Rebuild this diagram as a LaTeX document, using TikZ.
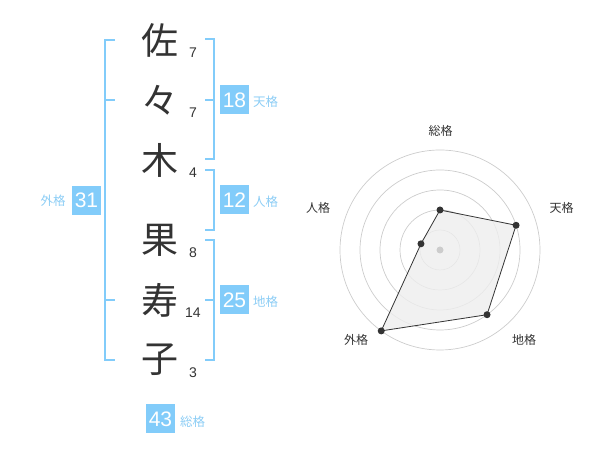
\documentclass[tikz,border=0pt]{standalone}
\usepackage{fontspec}
\setmainfont{Liberation Sans}
\newfontfamily\jp{Noto Sans CJK JP}
\definecolor{sky}{RGB}{130,204,250}
\definecolor{skytxt}{RGB}{140,205,245}
\definecolor{ink}{RGB}{51,51,51}
\definecolor{ring}{RGB}{204,204,204}
\definecolor{area}{RGB}{238,238,238}
\begin{document}
\begin{tikzpicture}[x=1pt,y=1pt,
  kanji/.style={font=\jp\fontsize{37}{37}\selectfont,text=ink,inner sep=0pt},
  stroke/.style={font=\fontsize{14}{14}\selectfont,text=ink,inner sep=0pt},
  brk/.style={draw=sky,line width=2pt},
  numbox/.style={fill=sky,text=white,minimum width=29pt,minimum height=29pt,inner sep=0pt,font=\fontsize{21}{21}\selectfont},
  kaku/.style={text=skytxt,font=\jp\fontsize{12.5}{12.5}\selectfont,inner sep=0pt},
  axlab/.style={text=ink,font=\jp\fontsize{12}{12}\selectfont,inner sep=0pt},
  dot/.style={circle,fill=ink,inner sep=0pt,minimum size=7pt}]
\useasboundingbox (0,0) rectangle (600,470);
% characters
\node[kanji] (k1) at (160,430) {佐};
\node[kanji] (k2) at (160,370) {々};
\node[kanji] (k3) at (160,310) {木};
\node[kanji] (k4) at (160,230) {果};
\node[kanji] (k5) at (160,170) {寿};
\node[kanji] (k6) at (160,110) {子};
% stroke counts
\node[stroke] (s1) at (193,417) {7};
\node[stroke] (s2) at (193,357) {7};
\node[stroke] (s3) at (193,297) {4};
\node[stroke] (s4) at (193,217) {8};
\node[stroke] (s5) at (193,157) {14};
\node[stroke] (s6) at (193,97) {3};
% outer bracket
\draw[brk] (115,430) -- (105,430) -- (105,110) -- (115,110);
\draw[brk] (105,370) -- (115,370);
\draw[brk] (105,170) -- (115,170);
% right brackets
\draw[brk] (205,431) -- (214,431) -- (214,311) -- (205,311);
\draw[brk] (205,370) -- (214,370);
\draw[brk] (205,300) -- (214,300) -- (214,240) -- (205,240);
\draw[brk] (205,230) -- (214,230) -- (214,110) -- (205,110);
\draw[brk] (205,170) -- (214,170);
% boxes and labels
\node[numbox] (b31) at (86.5,269.5) {31};
\node[kaku] (l31) at (53,269) {外格};
\node[numbox] (b18) at (234.5,370) {18};
\node[kaku,anchor=west] (l18) at (253,368) {天格};
\node[numbox] (b12) at (234.5,270) {12};
\node[kaku,anchor=west] (l12) at (253,268) {人格};
\node[numbox] (b25) at (234.5,170) {25};
\node[kaku,anchor=west] (l25) at (253,168) {地格};
\node[numbox] (b43) at (160.5,51) {43};
\node[kaku,anchor=west] (l43) at (180,48) {総格};
% radar chart
\begin{scope}[shift={(440,220)}]
  \foreach \r in {20,40,60,80,100} \draw[ring,line width=0.7pt] (0,0) circle (\r);
  \coordinate (p1) at (90:40);
  \coordinate (p2) at (18:80);
  \coordinate (p3) at (-54:80);
  \coordinate (p4) at (-126:100);
  \coordinate (p5) at (162:20);
  \fill[area,opacity=0.8] (p1) -- (p2) -- (p3) -- (p4) -- (p5) -- cycle;
  \draw[ink,line width=0.8pt] (p1) -- (p2) -- (p3) -- (p4) -- (p5) -- cycle;
  \node[circle,fill=ring,inner sep=0pt,minimum size=7pt] (c0) at (0,0) {};
  \foreach \p in {p1,p2,p3,p4,p5} \node[dot] at (\p) {};
  \node[axlab] (a1) at (0.7,119.3) {総格};
  \node[axlab] (a2) at (121.7,41.7) {天格};
  \node[axlab] (a3) at (84,-90) {地格};
  \node[axlab] (a4) at (-84,-90) {外格};
  \node[axlab] (a5) at (-122,42) {人格};
\end{scope}
\end{tikzpicture}
\end{document}
